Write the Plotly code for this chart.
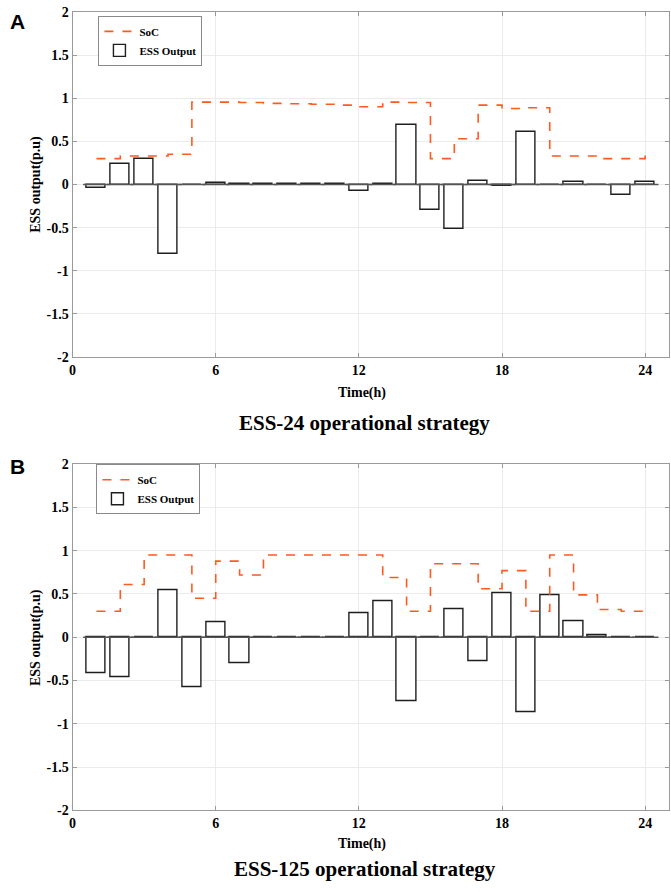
import plotly.graph_objects as go

W, H = 671, 892

hours = list(range(1, 25))

# Panel A (ESS-24)
ess_a = [-0.04, 0.24, 0.30, -0.80, 0.0, 0.02, 0.005, 0.005, 0.005, 0.005, 0.005, -0.07,
         0.01, 0.69, -0.30, -0.52, 0.04, -0.02, 0.61, 0.0, 0.035, 0.0, -0.12, 0.03]
soc_a = [0.30, 0.33, 0.33, 0.35, 0.955, 0.955, 0.95, 0.94, 0.935, 0.93, 0.92, 0.90,
         0.955, 0.95, 0.30, 0.53, 0.92, 0.88, 0.89, 0.33, 0.33, 0.30, 0.30, 0.38]

# Panel B (ESS-125)
ess_b = [-0.41, -0.46, 0.0, 0.54, -0.58, 0.17, -0.30, 0.0, 0.0, 0.0, 0.0, 0.28,
         0.42, -0.74, 0.0, 0.32, -0.28, 0.51, -0.87, 0.49, 0.18, 0.02, 0.0, 0.0]
soc_b = [0.30, 0.61, 0.95, 0.95, 0.45, 0.88, 0.72, 0.95, 0.95, 0.95, 0.95, 0.95,
         0.69, 0.30, 0.85, 0.85, 0.56, 0.77, 0.30, 0.95, 0.49, 0.32, 0.30, 0.30]

x_ticks = [0, 6, 12, 18, 24]
y_ticks = [2, 1.5, 1, 0.5, 0, -0.5, -1, -1.5, -2]
y_ticktext = ["2", "1.5", "1", "0.5", "0", "-0.5", "-1", "-1.5", "-2"]

titles = ["ESS-24 operational strategy", "ESS-125 operational strategy"]
panel_letters = ["A", "B"]

SERIF = "Liberation Serif"
ORANGE = "#FF5A1F"
AXC = "#9a9a9a"
GRID = "#ebebeb"


def px(xp):
    return xp / W


def py(yp):
    return 1 - yp / H


fig = go.Figure()

panels = [
    dict(ess=ess_a, soc=soc_a, xa="x", ya="y", leg="legend"),
    dict(ess=ess_b, soc=soc_b, xa="x2", ya="y2", leg="legend2"),
]

for p in panels:
    fig.add_trace(go.Bar(
        x=hours, y=p["ess"], width=0.8, name="ESS Output",
        marker=dict(color="white", line=dict(color="#1e1e1e", width=1.4)),
        xaxis=p["xa"], yaxis=p["ya"], legend=p["leg"], legendrank=2,
    ))
    fig.add_trace(go.Scatter(
        x=hours, y=[0 for _ in hours], mode="markers", showlegend=False,
        marker=dict(symbol="line-ew", size=19, line=dict(color="#555555", width=1.6)),
        xaxis=p["xa"], yaxis=p["ya"], hoverinfo="skip",
    ))
    fig.add_trace(go.Scatter(
        x=hours, y=p["soc"], mode="lines", name="SoC",
        line=dict(color=ORANGE, width=1.6, dash="dash", shape="hv"),
        xaxis=p["xa"], yaxis=p["ya"], legend=p["leg"], legendrank=1,
    ))

xdom = [px(69), px(669)]
ydomA = [py(356), py(5)]
ydomB = [py(817), py(465)]

axis_common = dict(
    showline=True, linecolor=AXC, linewidth=1, mirror="ticks",
    ticks="inside", ticklen=4, tickcolor=AXC,
    showgrid=True, gridcolor=GRID, gridwidth=1, zeroline=False,
    tickfont=dict(family=SERIF, size=14, color="black", weight="bold"),
)

xcfg = dict(range=[0, 25], tickvals=x_ticks, ticktext=[str(t) for t in x_ticks], domain=xdom, **axis_common)
ycfg = dict(range=[-2, 2], tickvals=y_ticks, ticktext=y_ticktext, **axis_common)

legend_common = dict(
    bgcolor="white", bordercolor="#8a8a8a", borderwidth=1,
    font=dict(family=SERIF, size=11, color="black", weight="bold"),
    xanchor="left", yanchor="top", itemwidth=30, tracegroupgap=0,
    itemclick=False,
)

fig.update_layout(
    width=W, height=H,
    margin=dict(l=0, r=0, t=0, b=0),
    paper_bgcolor="white", plot_bgcolor="white",
    showlegend=True,
    bargap=0,
    xaxis=dict(anchor="y", **xcfg),
    yaxis=dict(anchor="x", domain=ydomA, **ycfg),
    xaxis2=dict(anchor="y2", **xcfg),
    yaxis2=dict(anchor="x2", domain=ydomB, **ycfg),
    legend=dict(x=px(95), y=py(9), **legend_common),
    legend2=dict(x=px(93), y=py(465), **legend_common),
)

ann = []
for tb, ty, ttl in [(393, 423, titles[0]), (851, 877, titles[1])]:
    ann.append(dict(x=px(360), y=py(tb), xref="paper", yref="paper", text="Time(h)",
                    showarrow=False, xanchor="center", yanchor="middle",
                    font=dict(family=SERIF, size=14, color="black", weight="bold")))
    ann.append(dict(x=px(363), y=py(ty), xref="paper", yref="paper", text=ttl,
                    showarrow=False, xanchor="center", yanchor="middle",
                    font=dict(family=SERIF, size=21, color="black", weight="bold")))
for yc in [180, 641]:
    ann.append(dict(x=px(32), y=py(yc), xref="paper", yref="paper", text="ESS output(p.u)",
                    showarrow=False, textangle=-90, xanchor="center", yanchor="middle",
                    font=dict(family=SERIF, size=14, color="black", weight="bold")))
for lt, yc in zip(panel_letters, [15, 467]):
    ann.append(dict(x=px(14), y=py(yc), xref="paper", yref="paper", text=lt,
                    showarrow=False, xanchor="center", yanchor="middle",
                    font=dict(family="Liberation Sans", size=21, color="black", weight="bold")))

fig.update_layout(annotations=ann)

fig.write_html(
    "out.html",
    config={"displayModeBar": False},
    post_script="document.body.style.margin='0px';document.body.style.overflow='hidden';",
)
